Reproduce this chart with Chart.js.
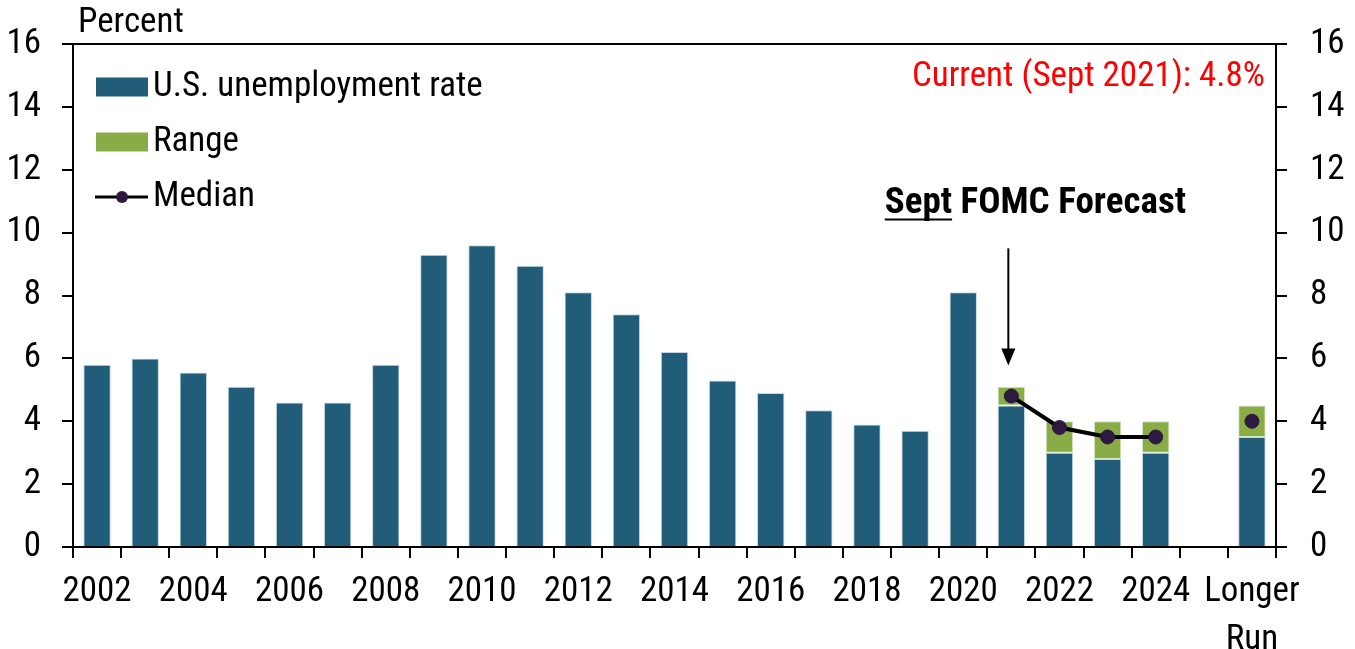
<!DOCTYPE html>
<html>
<head>
<meta charset="utf-8">
<script src="https://cdn.jsdelivr.net/npm/chart.js@4.4.1/dist/chart.umd.min.js"></script>
<style>
html,body{margin:0;padding:0;background:#fff;}
#wrap{width:1355px;height:649px;position:relative;}
</style>
</head>
<body>
<div id="wrap"><canvas id="c" width="1355" height="649"></canvas></div>
<script>
const categories = ['2002','2003','2004','2005','2006','2007','2008','2009','2010','2011','2012','2013','2014','2015','2016','2017','2018','2019','2020','2021','2022','2023','2024','','Longer Run'];
const tickLabels = ['2002','','2004','','2006','','2008','','2010','','2012','','2014','','2016','','2018','','2020','','2022','','2024','',['Longer','Run']];
const unemployment = [5.8,6.0,5.55,5.1,4.6,4.6,5.8,9.3,9.6,8.95,8.1,7.4,6.2,5.3,4.9,4.35,3.9,3.7,8.1,4.5,3.0,2.8,3.0,null,3.5];
const rangeLow  = [null,null,null,null,null,null,null,null,null,null,null,null,null,null,null,null,null,null,null,4.5,3.0,2.8,3.0,null,3.5];
const rangeHigh = [null,null,null,null,null,null,null,null,null,null,null,null,null,null,null,null,null,null,null,5.1,4.0,4.0,4.0,null,4.5];
const median    = [null,null,null,null,null,null,null,null,null,null,null,null,null,null,null,null,null,null,null,4.8,3.8,3.5,3.5,null,4.0];
const yMin = 0, yMax = 16, yStep = 2;

const FONT = "'Roboto Condensed','Liberation Sans Narrow','Arial Narrow',sans-serif";
const FS = 35;
const BLUE = '#215C78', GREEN = '#89AC46', DOT = '#2D1A40';

const rangeData = rangeLow.map((lo, i) => (lo === null || rangeHigh[i] === null) ? null : [lo, rangeHigh[i]]);

const decor = {
  id: 'decor',
  afterDraw(chart) {
    const ctx = chart.ctx, a = chart.chartArea;
    const xs = chart.scales.x, ys = chart.scales.y;
    ctx.save();
    // top frame line
    ctx.strokeStyle = '#000'; ctx.lineWidth = 2;
    ctx.beginPath(); ctx.moveTo(a.left - 11, a.top); ctx.lineTo(a.right + 11, a.top); ctx.stroke();
    // "Percent"
    ctx.fillStyle = '#000'; ctx.font = FS + 'px ' + FONT; ctx.textBaseline = 'middle'; ctx.textAlign = 'left';
    ctx.fillText('Percent', a.left + 5, a.top - 21);
    // Legend
    const lx = a.left + 23, tx = a.left + 80;
    const items = [
      {y: 87, type: 'box', color: BLUE, text: chart.data.datasets[1].label},
      {y: 142, type: 'box', color: GREEN, text: chart.data.datasets[2].label},
      {y: 197, type: 'line', color: DOT, text: chart.data.datasets[0].label}
    ];
    items.forEach(it => {
      if (it.type === 'box') {
        ctx.fillStyle = it.color; ctx.fillRect(lx, it.y - 9.5, 52, 19);
      } else {
        ctx.strokeStyle = '#000'; ctx.lineWidth = 3;
        ctx.beginPath(); ctx.moveTo(lx - 1, it.y); ctx.lineTo(lx + 52, it.y); ctx.stroke();
        ctx.fillStyle = it.color; ctx.beginPath(); ctx.arc(lx + 26, it.y, 6, 0, Math.PI * 2); ctx.fill();
      }
      ctx.fillStyle = '#000'; ctx.font = FS + 'px ' + FONT; ctx.textAlign = 'left'; ctx.textBaseline = 'middle';
      ctx.fillText(it.text, tx, it.y);
    });
    // Current text
    ctx.fillStyle = '#FF0000'; ctx.font = FS + 'px ' + FONT; ctx.textAlign = 'right';
    ctx.fillText('Current (Sept 2021): 4.8%', a.right - 11, ys.getPixelForValue(14.95));
    // Sept FOMC Forecast
    ctx.fillStyle = '#000'; ctx.font = 'bold 37px ' + FONT; ctx.textAlign = 'left';
    const t1 = 'Sept', t2 = ' FOMC Forecast';
    const w1 = ctx.measureText(t1).width, w2 = ctx.measureText(t2).width;
    const cx = xs.getPixelForValue(19.5), cy = ys.getPixelForValue(10.93);
    const sx = cx - (w1 + w2) / 2;
    ctx.fillText(t1, sx, cy); ctx.fillText(t2, sx + w1, cy);
    ctx.lineWidth = 2; ctx.beginPath(); ctx.moveTo(sx, cy + 16); ctx.lineTo(sx + w1, cy + 16); ctx.stroke();
    // Arrow
    const ax = xs.getPixelForValue(19) - 3, ay1 = ys.getPixelForValue(9.5), ay2 = ys.getPixelForValue(5.77);
    ctx.lineWidth = 2; ctx.beginPath(); ctx.moveTo(ax, ay1); ctx.lineTo(ax, ay2 - 14); ctx.stroke();
    ctx.beginPath(); ctx.moveTo(ax - 7, ay2 - 17); ctx.lineTo(ax + 7, ay2 - 17); ctx.lineTo(ax, ay2); ctx.closePath(); ctx.fill();
    ctx.restore();
  }
};

const axisY = (pos, width, pad) => ({
  position: pos, min: yMin, max: yMax,
  ticks: {stepSize: yStep, padding: pad, color: '#000', font: {family: FONT, size: FS}},
  grid: {drawOnChartArea: false, tickLength: 11, color: '#000', lineWidth: 2},
  border: {color: '#000', width: 2},
  afterFit(s) { s.width = width; }
});

new Chart(document.getElementById('c'), {
  data: {
    labels: categories,
    datasets: [
      {type: 'line', label: 'Median', data: median, borderColor: '#000', borderWidth: 4,
       pointRadius: 7, pointHoverRadius: 7, pointBackgroundColor: DOT, pointBorderColor: DOT, pointBorderWidth: 1,
       spanGaps: false, order: 0, yAxisID: 'y'},
      {type: 'bar', label: 'U.S. unemployment rate', data: unemployment, backgroundColor: BLUE,
       borderColor: 'rgba(190,212,224,0.9)', borderWidth: 1, grouped: false, barPercentage: 0.57, categoryPercentage: 1, order: 2, yAxisID: 'y'},
      {type: 'bar', label: 'Range', data: rangeData, backgroundColor: GREEN,
       borderColor: 'rgba(210,228,190,0.9)', borderWidth: 1, borderSkipped: false, grouped: false, barPercentage: 0.57, categoryPercentage: 1, order: 1, yAxisID: 'y'}
    ]
  },
  options: {
    responsive: false, animation: false, devicePixelRatio: 1,
    layout: {padding: {top: 41, left: 0, right: 0, bottom: 0}},
    plugins: {legend: {display: false}, tooltip: {enabled: false}},
    scales: {
      x: {
        offset: true,
        ticks: {autoSkip: false, maxRotation: 0, minRotation: 0, padding: 10, color: '#000',
                font: {family: FONT, size: FS, lineHeight: 1.38},
                callback: (v, i) => tickLabels[i]},
        grid: {offset: true, drawOnChartArea: false, tickLength: 11, color: '#000', lineWidth: 2},
        border: {color: '#000', width: 2},
        afterFit(s) { s.height = 102; }
      },
      y: axisY('left', 73, 21),
      y2: axisY('right', 79, 23)
    }
  },
  plugins: [decor]
});
</script>
</body>
</html>
